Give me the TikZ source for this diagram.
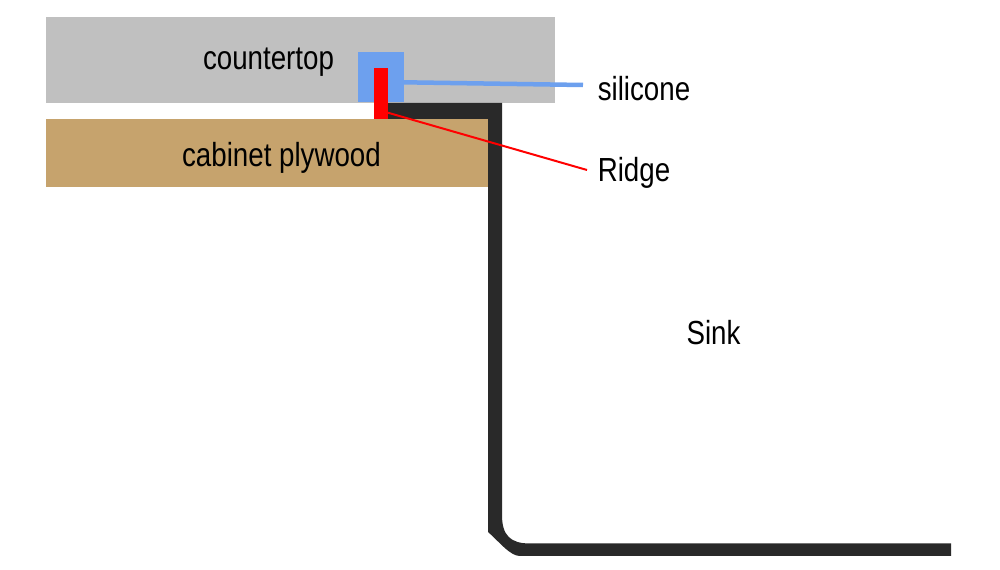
\documentclass[tikz,border=0pt]{standalone}
\usepackage{fontspec}
\setmainfont{Liberation Sans}
\usetikzlibrary{positioning}

\begin{document}
\begin{tikzpicture}[
    font=\fontsize{19pt}{22pt}\selectfont,
    layer/.style={inner sep=0pt, outer sep=0pt, minimum width=#1},
    label/.style={inner sep=0pt, xscale=0.83, text=black},
    leader/.style={line cap=butt}
]
\useasboundingbox (0,0) rectangle (20,11.4);

\node[layer=10.18cm, minimum height=1.72cm, fill={rgb,255:red,192;green,192;blue,192}] (countertop) at (6.01,10.2) {};
\node[layer=8.84cm, minimum height=1.36cm, fill={rgb,255:red,198;green,163;blue,109}] (plywood) at (5.34,8.34) {};

\fill[black!84] (7.76,9.34) -- (10.04,9.34) -- (10.04,1.1) .. controls (10.04,0.7) and (10.2,0.53) .. (10.6,0.53)
    -- (19.02,0.53) -- (19.02,0.28) -- (10.4,0.28) .. controls (10.2,0.28) and (10,0.55) .. (9.76,0.76) -- (9.76,9.02) -- (7.76,9.02) -- cycle;

\node[layer=0.92cm, minimum height=1cm, fill={rgb,255:red,109;green,160;blue,238}] (silicone) at (7.62,9.86) {};
\node[layer=0.28cm, minimum height=1.02cm, fill=red] (ridge) at (7.62,9.53) {};

\node[label] (countertoplabel) at (5.37,10.16) {countertop};
\node[label] (plywoodlabel) at (5.63,8.24) {cabinet plywood};
\node[label] (siliconelabel) at (12.88,9.62) {silicone};
\node[label] (ridgelabel) at (12.68,7.95) {Ridge};
\node[label] (sinklabel) at (14.27,4.74) {Sink};

\coordinate (siliconeend) at (11.66,9.7);
\coordinate (ridgeend) at (11.74,8);

\draw[leader, line width=0.09cm, draw={rgb,255:red,109;green,160;blue,238}] (silicone.-13) -- (siliconeend);
\draw[leader, line width=0.04cm, red] (ridge.-70) -- (ridgeend);
\end{tikzpicture}
\end{document}
